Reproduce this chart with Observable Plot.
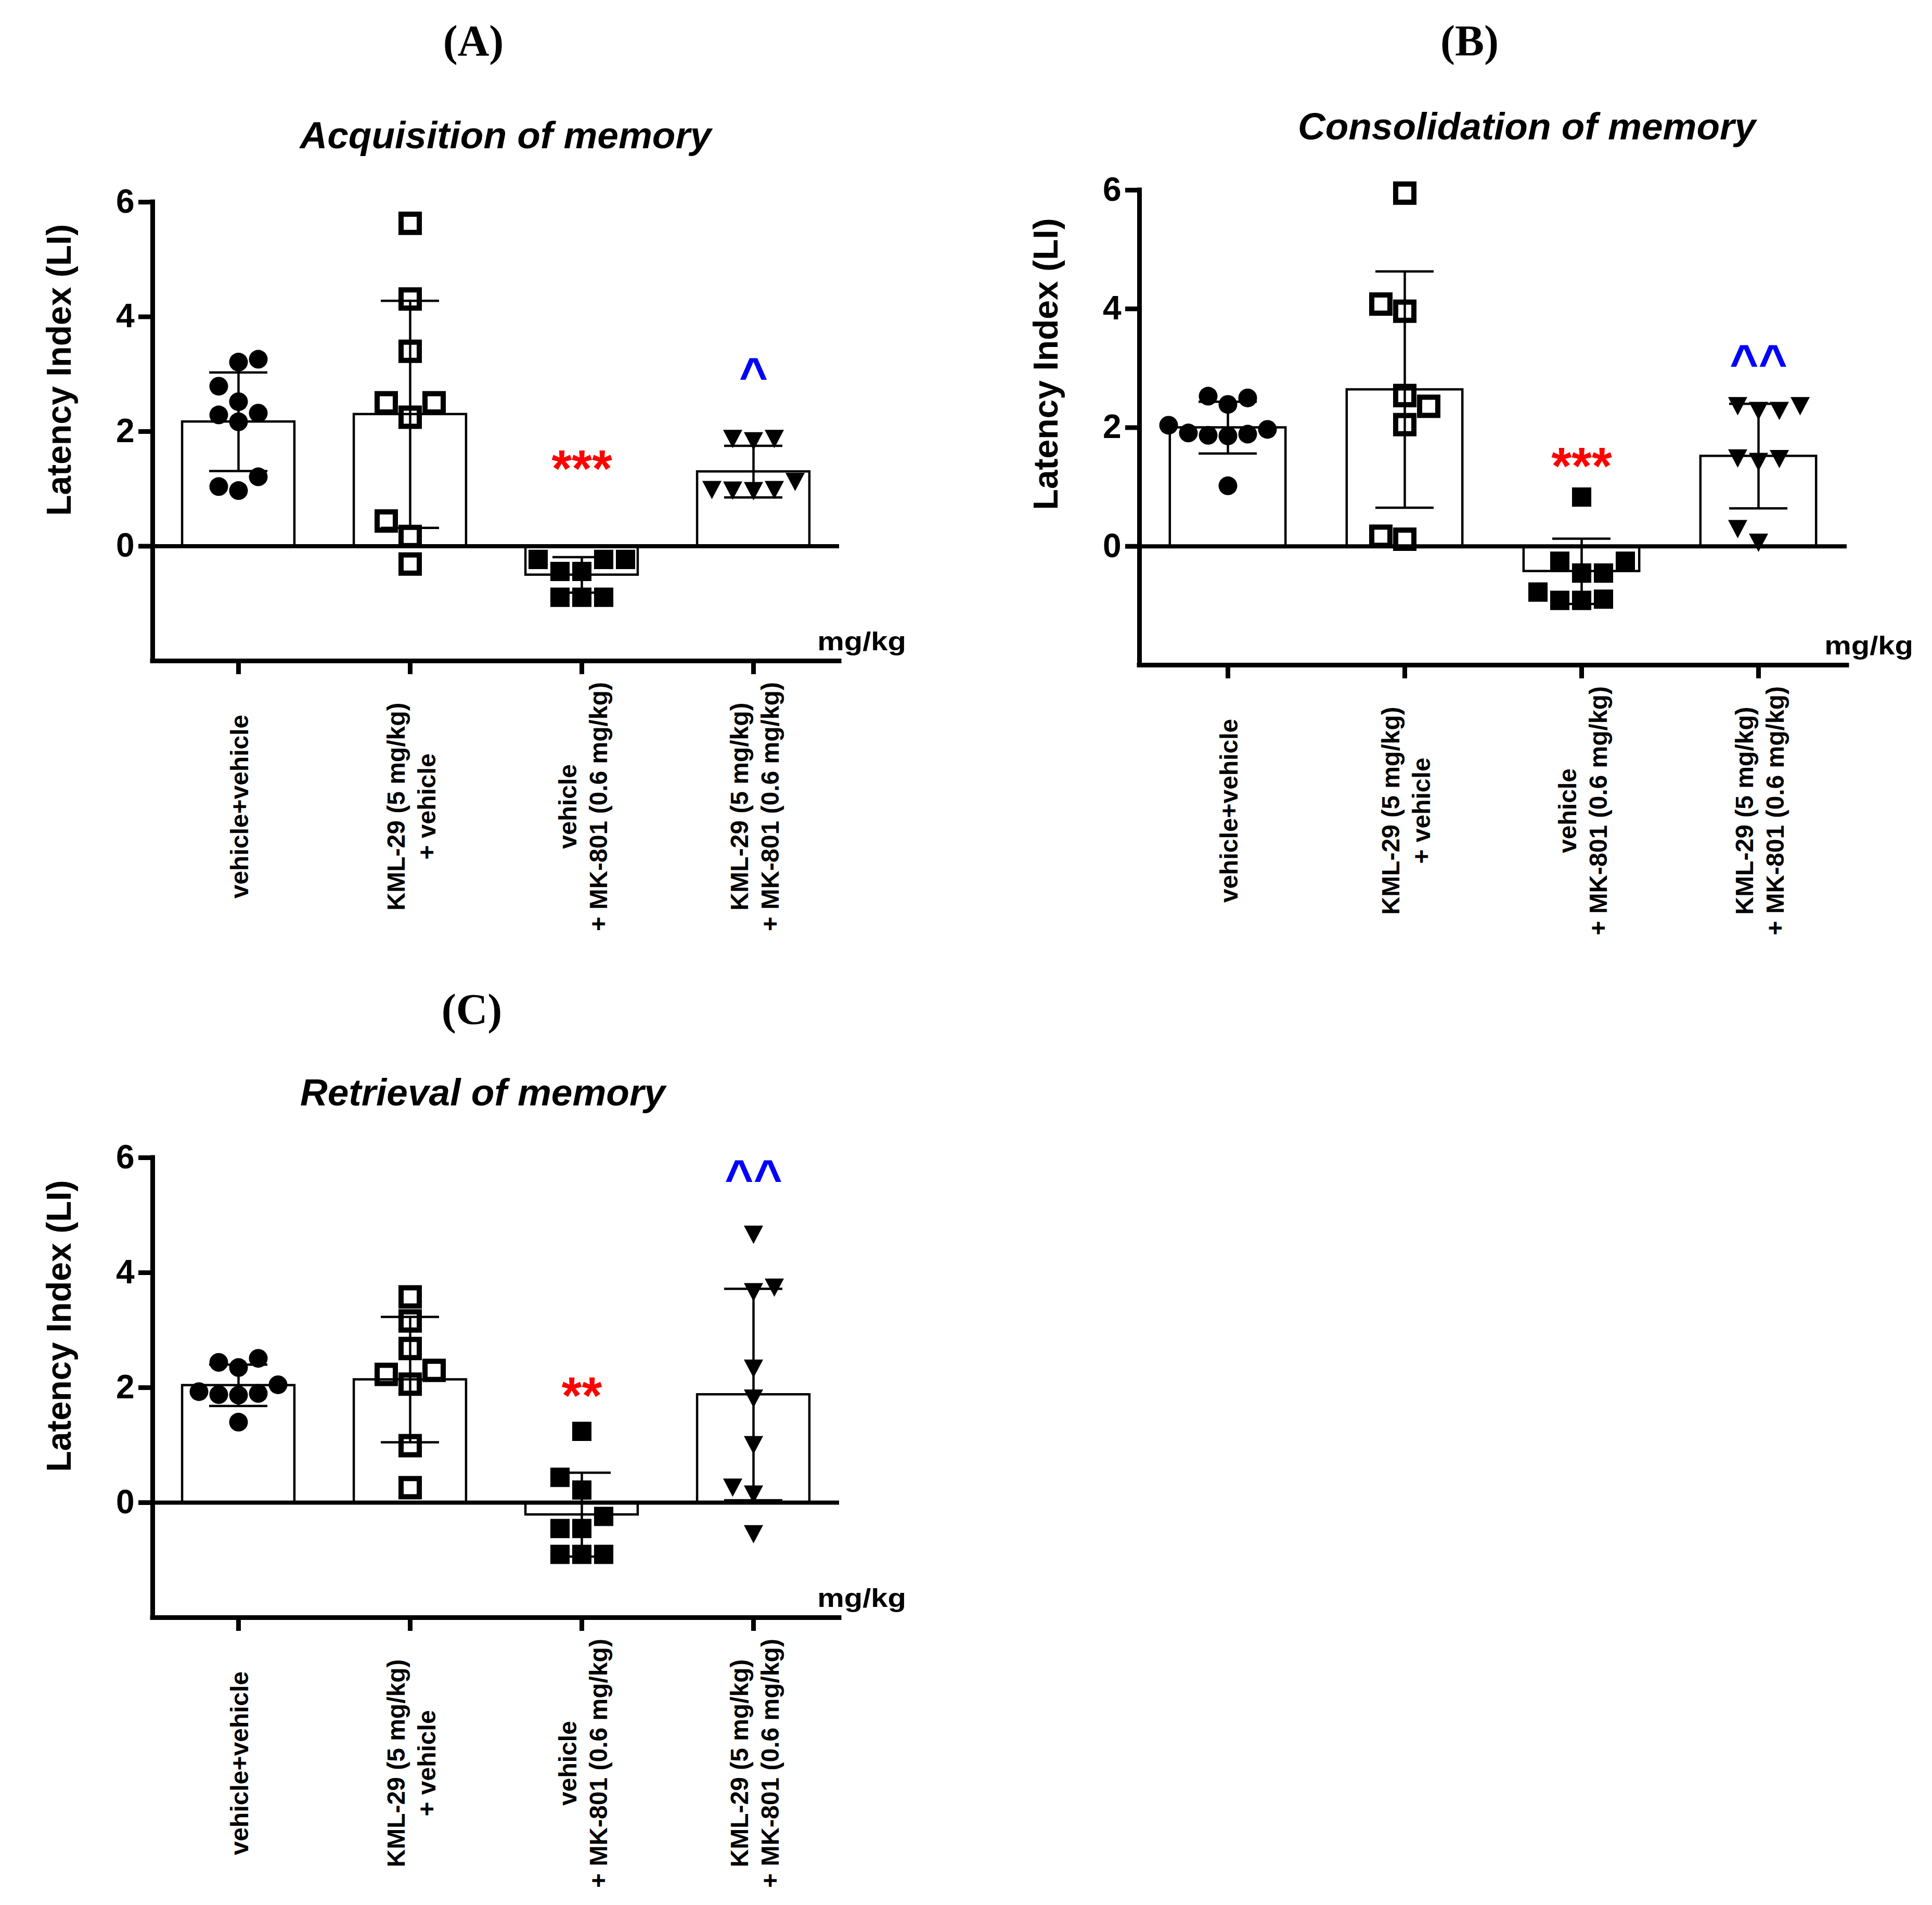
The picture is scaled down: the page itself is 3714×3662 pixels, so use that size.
<!DOCTYPE html>
<html>
<head>
<meta charset="utf-8">
<script src="https://cdn.jsdelivr.net/npm/d3@7"></script>
<script src="https://cdn.jsdelivr.net/npm/@observablehq/plot@0.6"></script>
<style>
  html, body { margin: 0; padding: 0; background: #fff; }
  #page { position: relative; width: 3714px; height: 3662px; background: #fff; overflow: hidden; }
  .abs { position: absolute; white-space: nowrap; }
  .letter { font-family: "Liberation Serif", "Times New Roman", serif; font-weight: bold; font-size: 84px; line-height: 84px; text-align: center; width: 400px; }
  .title { font-family: "Liberation Sans", Arial, sans-serif; font-weight: bold; font-style: italic; font-size: 73px; line-height: 73px; text-align: center; width: 1400px; }
  .unit { font-family: "Liberation Sans", Arial, sans-serif; font-weight: bold; font-size: 50px; line-height: 50px; text-align: right; width: 400px; transform: scaleX(1.16); transform-origin: right center; }
</style>
</head>
<body>
<div id="page"></div>
<script>
// ---------------- data ----------------
const groupLabels = [
  "vehicle+vehicle",
  "KML-29 (5 mg/kg)\n+ vehicle",
  "vehicle\n+ MK-801 (0.6 mg/kg)",
  "KML-29 (5 mg/kg)\n+ MK-801 (0.6 mg/kg)"
];
const yTicks = [0, 2, 4, 6];
const yLabel = "Latency Index (LI)";
const unitLabel = "mg/kg";
const panelLetters = ["(A)", "(B)", "(C)"];
const panelTitles = ["Acquisition of memory", "Consolidation of memory", "Retrieval of memory"];

// (A) Acquisition
const acqVehVeh = [3.26, 3.21, 2.79, 2.52, 2.29, 2.32, 2.17, 1.21, 0.97, 1.04];
const acqKmlVeh = [5.63, 4.31, 3.40, 2.50, 2.50, 2.25, 0.44, 0.17, -0.31];
const acqVehMk  = [-0.23, -0.23, -0.23, -0.44, -0.44, -0.89, -0.89, -0.89];
const acqKmlMk  = [1.87, 1.83, 1.87, 0.97, 1.12, 0.98, 0.98, 0.96];
const acqMean = [2.17, 2.30, -0.50, 1.30];
const acqSd   = [0.86, 1.98, 0.31, 0.45];
const acqSigText  = ["***", "^"];
const acqSigGroup = [2, 3];
const acqSigLevel = [1.55, 3.13];

// (B) Consolidation
const conVehVeh = [2.04, 1.89, 1.97, 1.86, 1.91, 1.87, 2.39, 2.50, 2.53, 1.02];
const conKmlVeh = [5.95, 3.96, 4.08, 2.54, 2.36, 2.05, 0.12, 0.17];
const conVehMk  = [0.83, -0.25, -0.25, -0.45, -0.77, -0.45, -0.91, -0.91, -0.89];
const conKmlMk  = [2.36, 2.28, 2.28, 2.36, 1.47, 1.48, 1.42, 0.29, 0.06];
const conMean = [2.00, 2.64, -0.42, 1.52];
const conSd   = [0.435, 1.99, 0.55, 0.88];
const conSigText  = ["***", "^^"];
const conSigGroup = [2, 3];
const conSigLevel = [1.54, 3.25];

// (C) Retrieval
const retVehVeh = [2.05, 1.88, 1.93, 1.87, 1.90, 2.44, 2.35, 2.51, 1.40];
const retKmlVeh = [3.58, 3.16, 2.68, 2.30, 2.23, 2.06, 0.99, 0.26];
const retVehMk  = [1.24, 0.44, 0.22, -0.24, -0.45, -0.45, -0.90, -0.90, -0.90];
const retKmlMk  = [4.66, 3.66, 3.74, 2.33, 1.81, 1.00, 0.26, 0.14, -0.55];
const retMean = [2.04, 2.14, -0.21, 1.88];
const retSd   = [0.36, 1.09, 0.73, 1.84];
const retSigText  = ["**", "^^"];
const retSigGroup = [2, 3];
const retSigLevel = [2.06, 5.81];

// ---------------- helpers ----------------
const triangleDown = {
  draw(context, size) {
    const s = Math.sqrt(size / Math.PI);
    context.moveTo(-s, -0.95 * s);
    context.lineTo(s, -0.95 * s);
    context.lineTo(0, 0.95 * s);
    context.closePath();
  }
};

// greedy swarm: offsets in px so markers of diameter d do not overlap
function swarm(values, d, unitPx) {
  const order = d3.range(values.length).sort((a, b) => values[a] - values[b]);
  const placed = [];
  const off = new Array(values.length);
  const stepPx = d / 2;
  let flip = false;
  for (const i of order) {
    const py = values[i] * unitPx;
    for (let k = 0; k < 100; k++) {
      const cands = k === 0 ? [0] : (flip ? [k * stepPx, -k * stepPx] : [-k * stepPx, k * stepPx]);
      let found = null;
      for (const c of cands) {
        if (placed.every(p => Math.hypot(p.x - c, p.y - py) >= d - 0.01)) { found = c; break; }
      }
      if (found !== null) {
        off[i] = found;
        placed.push({x: found, y: py});
        if (found !== 0) flip = !flip;
        break;
      }
    }
  }
  return off;
}

const markerStyles = [
  {symbol: "circle", r: 18, fill: "black", stroke: "none", strokeWidth: 0, d: 38},
  {symbol: "square", r: 19.75, fill: "none", stroke: "black", strokeWidth: 10, d: 46},
  {symbol: "square", r: 20.9, fill: "black", stroke: "none", strokeWidth: 0, d: 42},
  {symbol: triangleDown, r: 18.5, fill: "black", stroke: "none", strokeWidth: 0, d: 40}
];

function makePanel(cfg) {
  const plotW = cfg.width - cfg.ml - cfg.mr;
  const plotH = cfg.height - cfg.mt - cfg.mb;
  const stepPx = plotW / 4;
  const unitPx = plotH / 8;
  const barHalf = 0.327;
  const capHalf = 56 / stepPx;

  const bars = cfg.mean.map((m, g) => ({g, mean: m, sd: cfg.sd[g]}));
  const caps = bars.flatMap(b => [{g: b.g, y: b.mean + b.sd}, {g: b.g, y: b.mean - b.sd}]);
  const pointSets = cfg.values.map((vals, g) => {
    const off = swarm(vals, markerStyles[g].d, unitPx);
    return vals.map((v, j) => ({g, v, x: g + 0.5 + off[j] / stepPx}));
  });
  const sig = cfg.sigText.map((t, k) => ({text: t, g: cfg.sigGroup[k], level: cfg.sigLevel[k]}));

  const dotMarks = pointSets.map((pts, g) => {
    const s = markerStyles[g];
    return Plot.dot(pts, {
      x: "x", y: "v", r: s.r, symbol: s.symbol,
      fill: s.fill, stroke: s.stroke, strokeWidth: s.strokeWidth
    });
  });

  return Plot.plot({
    width: cfg.width,
    height: cfg.height,
    marginLeft: cfg.ml, marginRight: cfg.mr, marginTop: cfg.mt, marginBottom: cfg.mb,
    x: {domain: [0, 4], axis: null},
    y: {domain: [-2, 6], axis: null},
    style: {background: "transparent", overflow: "visible", fontFamily: "'Liberation Sans', Arial, sans-serif"},
    marks: [
      // bars
      Plot.rectY(bars, {
        x1: d => d.g + 0.5 - barHalf, x2: d => d.g + 0.5 + barHalf,
        y1: () => 0, y2: d => d.mean,
        fill: "white", stroke: "black", strokeWidth: 4.5
      }),
      // axes lines
      Plot.ruleY([0], {y: d => d, x1: () => 0, x2: () => 4, stroke: "black", strokeWidth: 8}),
      Plot.ruleY([-2], {y: d => d, x1: () => 0, x2: () => 4, stroke: "black", strokeWidth: 9, strokeLinecap: "square"}),
      Plot.ruleX([0], {x: d => d, y1: () => -2, y2: () => 6, stroke: "black", strokeWidth: 9, strokeLinecap: "square"}),
      // y ticks
      Plot.ruleY(yTicks, {y: d => d, x1: () => 0, x2: () => 0, insetLeft: -27, stroke: "black", strokeWidth: 9}),
      // x ticks
      Plot.ruleX(groupLabels, {x: (d, i) => i + 0.5, y1: () => -2, y2: () => -2, insetBottom: -26, stroke: "black", strokeWidth: 9}),
      // y tick labels
      Plot.text(yTicks, {
        y: d => d, text: d => String(d), frameAnchor: "left", dx: -35,
        textAnchor: "end", fontSize: 64, fontWeight: "bold", fill: "black"
      }),
      // y axis title
      Plot.text([yLabel], {
        y: () => (yTicks[0] + yTicks[yTicks.length - 1]) / 2, text: d => d,
        frameAnchor: "left", dx: -179, dy: -8, rotate: -90,
        textAnchor: "middle", lineAnchor: "middle",
        fontSize: 66, fontWeight: "bold", fill: "black"
      }),
      // group labels
      Plot.text(groupLabels, {
        x: (d, i) => i + 0.5, text: d => d, frameAnchor: "bottom", dy: 280,
        rotate: -90, textAnchor: "middle", lineAnchor: "middle", lineHeight: 1.22,
        fontWeight: "bold", fontSize: 48, fill: "black"
      }),
      // points
      ...dotMarks,
      // error bars
      Plot.ruleX(bars, {x: d => d.g + 0.5, y1: d => d.mean - d.sd, y2: d => d.mean + d.sd, stroke: "black", strokeWidth: 4.5}),
      Plot.ruleY(caps, {y: "y", x1: d => d.g + 0.5 - capHalf, x2: d => d.g + 0.5 + capHalf, stroke: "black", strokeWidth: 4.5}),
      // significance
      Plot.text(sig.filter(s => s.text.includes("*")), {
        x: d => d.g + 0.5, y: "level", text: "text", fill: "#ff0000",
        fontSize: 100, fontWeight: "bold", dy: 24
      }),
      Plot.text(sig.filter(s => s.text.includes("^")), {
        x: d => d.g + 0.5, y: "level", text: "text", fill: "#0000ff",
        fontSize: 95, fontWeight: "bold", dy: 19
      })
    ]
  });
}

const page = document.getElementById("page");

const panels = [
  {left: 0, top: 300, width: 1800, height: 1600, ml: 293, mr: 187, mt: 88, mb: 630,
   values: [acqVehVeh, acqKmlVeh, acqVehMk, acqKmlMk], mean: acqMean, sd: acqSd,
   sigText: acqSigText, sigGroup: acqSigGroup, sigLevel: acqSigLevel},
  {left: 1900, top: 280, width: 1800, height: 1600, ml: 290, mr: 150, mt: 85, mb: 602,
   values: [conVehVeh, conKmlVeh, conVehMk, conKmlMk], mean: conMean, sd: conSd,
   sigText: conSigText, sigGroup: conSigGroup, sigLevel: conSigLevel},
  {left: 0, top: 2130, width: 1800, height: 1532, ml: 293, mr: 187, mt: 95, mb: 553,
   values: [retVehVeh, retKmlVeh, retVehMk, retKmlMk], mean: retMean, sd: retSd,
   sigText: retSigText, sigGroup: retSigGroup, sigLevel: retSigLevel}
];

for (const cfg of panels) {
  const svg = makePanel(cfg);
  svg.style.position = "absolute";
  svg.style.left = cfg.left + "px";
  svg.style.top = cfg.top + "px";
  svg.style.maxWidth = "none";
  page.appendChild(svg);
}

function addText(cls, text, left, top) {
  const el = document.createElement("div");
  el.className = "abs " + cls;
  el.textContent = text;
  el.style.left = left + "px";
  el.style.top = top + "px";
  page.appendChild(el);
}

// panel letters (centre x) and titles (centre x)
const letterPos = [[910, 37], [2825, 37], [907, 1899]];
const titlePos = [[972, 223], [2935, 206], [928, 2063]];
const unitPos = [[1342, 1208], [3278, 1216], [1342, 3047]];
panelLetters.forEach((t, i) => addText("letter", t, letterPos[i][0] - 200, letterPos[i][1]));
panelTitles.forEach((t, i) => addText("title", t, titlePos[i][0] - 700, titlePos[i][1]));
unitPos.forEach(p => addText("unit", unitLabel, p[0], p[1]));
</script>
</body>
</html>
